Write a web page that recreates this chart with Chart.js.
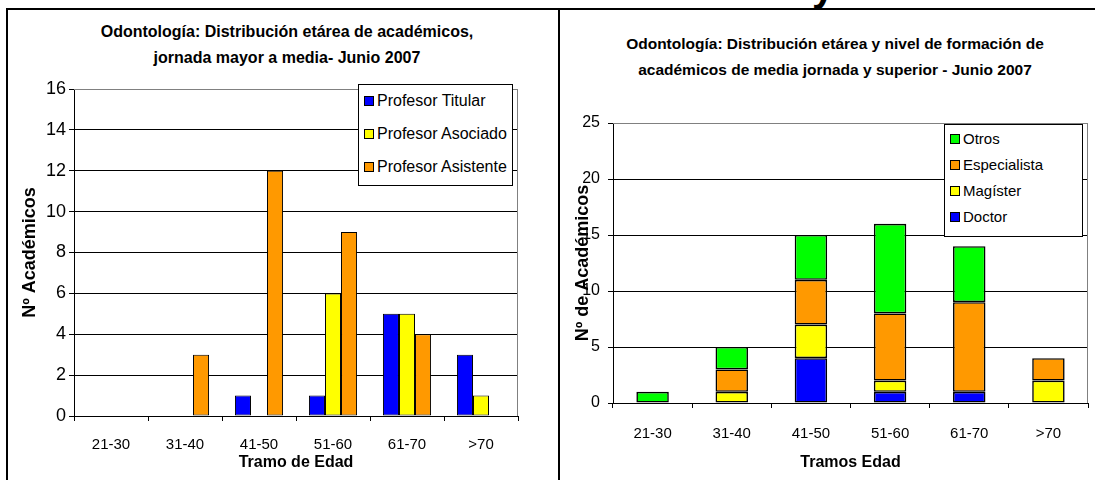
<!DOCTYPE html>
<html>
<head>
<meta charset="utf-8">
<script src="https://cdn.jsdelivr.net/npm/chart.js@4"></script>
<style>
  body { margin: 0; background: #fff; }
  #page { position: relative; width: 1095px; height: 480px; overflow: hidden; font-family: 'Liberation Sans', Arial, sans-serif; }
  .line { position: absolute; background: #000; }
  .box { position: absolute; }
  .title { position: absolute; font-weight: bold; text-align: center; line-height: 26px; color: #000; }
  .legend { position: absolute; border: 1px solid #000; background: #fff; box-sizing: border-box; }
  .legend div { position: absolute; white-space: nowrap; }
  .legend span.sw { display: inline-block; width: 8px; height: 8px; border: 1px solid #000; margin-right: 3px; vertical-align: 0px; }
  #cut { position: absolute; left: 812px; top: -33px; font: bold 40px 'Liberation Sans', Arial, sans-serif; line-height: 40px; }
</style>
</head>
<body>
<div id="page">
  <div id="cut">y</div>
  <div class="line" style="left:6px; top:8px; width:1089px; height:2px;"></div>
  <div class="line" style="left:6px; top:8px; width:2px; height:472px;"></div>
  <div class="line" style="left:558px; top:8px; width:2px; height:472px;"></div>

  <div class="title" style="left:67px; top:19px; width:440px; font-size:16px;">Odontología: Distribución etárea de académicos,<br>jornada mayor a media- Junio 2007</div>
  <div class="title" style="left:585px; top:31px; width:500px; font-size:15.5px;">Odontología: Distribución etárea y nivel de formación de<br>académicos de media jornada y superior - Junio 2007</div>

  <div class="box" style="left:8px; top:11px; width:549px; height:469px;"><canvas id="grafic1"></canvas></div>
  <div class="box" style="left:561px; top:11px; width:534px; height:469px;"><canvas id="grafic2"></canvas></div>

  <div class="legend" id="leg1" style="left:358px; top:84px; width:155px; height:102px; font-size:16px;"></div>
  <div class="legend" id="leg2" style="left:944px; top:124px; width:139px; height:113px; font-size:15px;"></div>
</div>
<script>
// === DATOS ===
const tramos = ['21-30', '31-40', '41-50', '51-60', '61-70', '>70'];

// gráfico 1: jornada mayor a media
const titular = [0, 0, 1, 1, 5, 3];
const asociado = [0, 0, 0, 6, 5, 1];
const asistente = [0, 3, 12, 9, 4, 0];
const yTicks1 = [0, 2, 4, 6, 8, 10, 12, 14, 16];

// gráfico 2: nivel de formación
const doctor = [0, 0, 4, 1, 1, 0];
const magister = [0, 1, 3, 1, 0, 2];
const especialista = [0, 2, 4, 6, 8, 2];
const otros = [1, 2, 4, 8, 5, 0];
const yTicks2 = [0, 5, 10, 15, 20, 25];

const AZUL = '#0000FF', AMARILLO = '#FFFF00', NARANJA = '#FF9900', VERDE = '#00FF00';
const FONT = "'Liberation Sans', Arial, sans-serif";

// marco gris arriba y a la derecha del área de trazado
const plotFrame = {
    id: 'plotFrame',
    afterDatasetsDraw(chart) {
        const { ctx, chartArea: a } = chart;
        ctx.save();
        ctx.strokeStyle = '#808080';
        ctx.lineWidth = 1;
        ctx.beginPath();
        ctx.moveTo(a.left, a.top + 0.5);
        ctx.lineTo(a.right - 0.5, a.top + 0.5);
        ctx.lineTo(a.right - 0.5, a.bottom);
        ctx.stroke();
        ctx.restore();
    }
};

function buildOptions(o) {
    return {
        responsive: true,
        maintainAspectRatio: false,
        animation: false,
        layout: { padding: { top: o.padTop, right: o.padRight, bottom: 0, left: 0 } },
        plugins: { legend: { display: false }, tooltip: { enabled: false } },
        scales: {
            x: {
                stacked: o.stacked,
                afterFit: s => { s.height = o.xHeight; },
                grid: { drawOnChartArea: false, color: '#000', tickLength: 5 },
                border: { color: '#000' },
                ticks: { color: '#000', font: { family: FONT, size: 15 }, padding: o.xTickPad, maxRotation: 0 },
                title: { display: true, text: o.xTitle, color: '#000', font: { family: FONT, size: 16, weight: 'bold' }, padding: { top: 0, bottom: 8 } }
            },
            y: {
                stacked: o.stacked,
                min: 0,
                max: o.ticks[o.ticks.length - 1],
                afterFit: s => { s.width = o.yWidth; },
                afterBuildTicks: s => { s.ticks = o.ticks.map(v => ({ value: v })); },
                grid: {
                    color: c => c.tick && c.tick.value === o.ticks[o.ticks.length - 1] ? '#808080' : '#000',
                    tickColor: '#000',
                    tickLength: 5
                },
                border: { color: '#000' },
                ticks: { color: '#000', font: { family: FONT, size: o.yFont }, padding: o.yTickPad },
                title: { display: true, text: o.yTitle, color: '#000', font: { family: FONT, size: 18, weight: 'bold' }, padding: { top: 11, bottom: 0 } }
            }
        }
    };
}

// === GRÁFICO 1: BARRAS AGRUPADAS ===
const sets1 = [
    { label: 'Profesor Titular', data: titular, backgroundColor: AZUL },
    { label: 'Profesor Asociado', data: asociado, backgroundColor: AMARILLO },
    { label: 'Profesor Asistente', data: asistente, backgroundColor: NARANJA }
];

new Chart(document.getElementById('grafic1'), {
    type: 'bar',
    data: {
        labels: tramos,
        datasets: sets1.map(d => ({ ...d, borderColor: '#000', borderWidth: 1, borderSkipped: false, categoryPercentage: 0.65, barPercentage: 1 }))
    },
    options: buildOptions({
        stacked: false, padTop: 78, padRight: 39, xHeight: 64, yWidth: 66,
        xTickPad: 15, yTickPad: 3, yFont: 18, ticks: yTicks1,
        xTitle: 'Tramo de Edad', yTitle: 'Nº Académicos'
    }),
    plugins: [plotFrame]
});

// === GRÁFICO 2: BARRAS APILADAS ===
const sets2 = [
    { label: 'Doctor', data: doctor, backgroundColor: AZUL },
    { label: 'Magíster', data: magister, backgroundColor: AMARILLO },
    { label: 'Especialista', data: especialista, backgroundColor: NARANJA },
    { label: 'Otros', data: otros, backgroundColor: VERDE }
];

new Chart(document.getElementById('grafic2'), {
    type: 'bar',
    data: {
        labels: tramos,
        datasets: sets2.map(d => ({ ...d, borderColor: '#000', borderWidth: 1.6, borderSkipped: false, inflateAmount: 0, categoryPercentage: 0.41, barPercentage: 1 }))
    },
    options: buildOptions({
        stacked: true, padTop: 112, padRight: 7, xHeight: 77, yWidth: 52,
        xTickPad: 17, yTickPad: 8, yFont: 16, ticks: yTicks2,
        xTitle: 'Tramos Edad', yTitle: 'Nº de Académicos'
    }),
    plugins: [plotFrame]
});

// === LEYENDAS ===
function fillLegend(id, sets, left, top0, step) {
    const el = document.getElementById(id);
    sets.forEach((s, i) => {
        const row = document.createElement('div');
        row.style.left = left + 'px';
        row.style.top = (top0 + i * step) + 'px';
        row.innerHTML = '<span class="sw" style="background:' + s.backgroundColor + '"></span>' + s.label;
        el.appendChild(row);
    });
}
fillLegend('leg1', sets1, 5, 7, 33);
fillLegend('leg2', sets2.slice().reverse(), 5, 5, 26);
</script>
</body>
</html>
